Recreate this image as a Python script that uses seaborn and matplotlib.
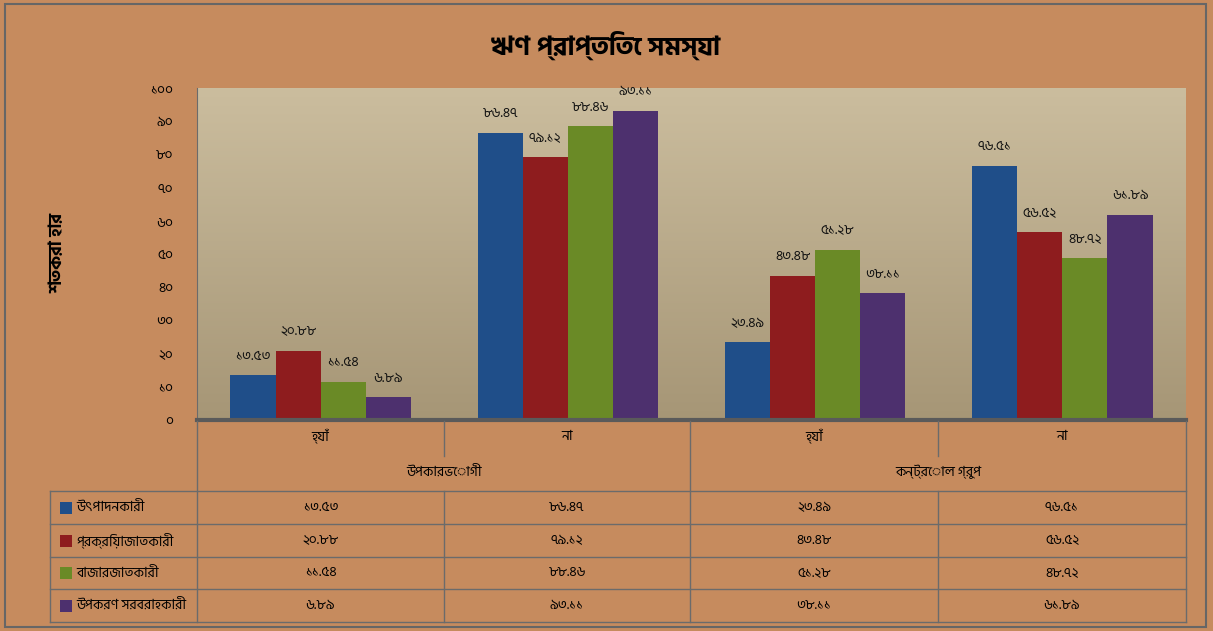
import matplotlib
matplotlib.use('Agg')
import matplotlib.pyplot as plt
from matplotlib import font_manager
from matplotlib.patches import Rectangle
import seaborn as sns
import pandas as pd
import numpy as np

# data
title = 'ঋণ প্রাপ্তিতে সমস্যা'
ylabel = 'শতকরা হার'
groups = ['উপকারভোগী', 'কন্ট্রোল গ্রুপ']
answers = ['হ্যাঁ', 'না']
series = ['উৎপাদনকারী', 'প্রক্রিয়াজাতকারী', 'বাজারজাতকারী', 'উপকরণ সরবরাহকারী']
producers = [13.53, 86.47, 23.49, 76.51]
processors = [20.88, 79.12, 43.48, 56.52]
marketers = [11.54, 88.46, 51.28, 48.72]
suppliers = [6.89, 93.11, 38.11, 61.89]
colors = ['#1F4E89', '#8E1C1E', '#6A8A26', '#4D306E']
yticks = list(range(0, 101, 10))


def bn(s):
    return str(s).translate(str.maketrans('0123456789', '০১২৩৪৫৬৭৮৯'))


# pick an installed Bengali family, plain sans first
installed = {f.name for f in font_manager.fontManager.ttflist}
bfont = next((n for n in ['Hind Siliguri', 'Noto Sans Bengali', 'Lohit Bengali', 'FreeSans']
              if n in installed), None)
plt.rcParams['font.family'] = [bfont, 'DejaVu Sans'] if bfont else ['DejaVu Sans']

cats = [g + ' ' + a for g in groups for a in answers]
all_vals = [producers, processors, marketers, suppliers]
rows = []
for name, vals in zip(series, all_vals):
    for c, v in zip(cats, vals):
        rows.append({'cat': c, 'series': name, 'value': v})
df = pd.DataFrame(rows)

W, H = 1213, 631
BG = '#C68B5E'
LINE = '#6B6B6B'
fig = plt.figure(figsize=(W / 100, H / 100), dpi=100, facecolor=BG)

# plot area (pixel box 197..1186 x 88..420)
ax = fig.add_axes([197 / W, (H - 420) / H, (1186 - 197) / W, (420 - 88) / H])
grad = np.linspace(0, 1, 256).reshape(-1, 1)
top = np.array([203, 189, 158]) / 255
bot = np.array([166, 150, 118]) / 255
img = top + (bot - top) * grad[:, :, None]
ax.imshow(img, extent=[0, 1, 0, 1], transform=ax.transAxes, aspect='auto', zorder=0)

sns.barplot(data=df, x='cat', y='value', hue='series', palette=colors,
            width=0.73, saturation=1, legend=False, ax=ax, zorder=2)
ax.set_xlim(-0.5, len(cats) - 0.5)
ax.set_ylim(0, 100)

for cont, vals in zip(ax.containers, all_vals):
    ax.bar_label(cont, labels=[bn(f'{v:.2f}') for v in vals], padding=9,
                 fontsize=10, color='#111111')

ax.set_yticks(yticks)
ax.set_yticklabels([bn(t) for t in yticks], fontsize=10)
ax.tick_params(axis='y', length=0, pad=17)
ax.tick_params(axis='x', length=0, labelbottom=False)
ax.set_xlabel('')
ax.set_ylabel('')
for s in ['top', 'right']:
    ax.spines[s].set_visible(False)
ax.spines['left'].set_color(LINE)
ax.spines['bottom'].set_color('#5A5A5A')
ax.spines['bottom'].set_linewidth(3)

# overlay in pixel coords for title, table and frame
ov = fig.add_axes([0, 0, 1, 1])
ov.set_xlim(0, W)
ov.set_ylim(H, 0)
ov.axis('off')
ov.patch.set_visible(False)

ov.add_patch(Rectangle((5, 4), 1201, 623, fill=False, edgecolor='#666666', lw=1.5))
ov.text(606, 45, title, ha='center', va='center', fontsize=19, fontweight='bold')
ov.text(58, 253, ylabel, ha='center', va='center', rotation=90, fontsize=13, fontweight='bold')

col_x = [197, 444, 690, 938, 1186]
row_y = [491, 524, 557, 589, 622]
for x in [197, 690, 1186]:
    ov.plot([x, x], [421, 622], color=LINE, lw=1)
for x in [444, 938]:
    ov.plot([x, x], [421, 456], color=LINE, lw=1)
    ov.plot([x, x], [491, 622], color=LINE, lw=1)
ov.plot([50, 50], [491, 622], color=LINE, lw=1)
for y in row_y:
    ov.plot([50, 1186], [y, y], color=LINE, lw=1)

centers = [(col_x[i] + col_x[i + 1]) / 2 for i in range(4)]
for i, c in enumerate(cats):
    ov.text(centers[i], 437, answers[i % 2], ha='center', va='center', fontsize=10)
for j, g in enumerate(groups):
    ov.text((col_x[2 * j] + col_x[2 * j + 2]) / 2, 472, g, ha='center', va='center', fontsize=10)

for r, (name, vals, col) in enumerate(zip(series, all_vals, colors)):
    yc = (row_y[r] + row_y[r + 1]) / 2
    ov.add_patch(Rectangle((60, yc - 6), 12, 12, facecolor=col, edgecolor='none'))
    ov.text(76, yc, name, ha='left', va='center', fontsize=10)
    for i, v in enumerate(vals):
        ov.text(centers[i], yc, bn(f'{v:.2f}'), ha='center', va='center', fontsize=10)

fig.savefig('out.png', dpi=100, facecolor=BG)
